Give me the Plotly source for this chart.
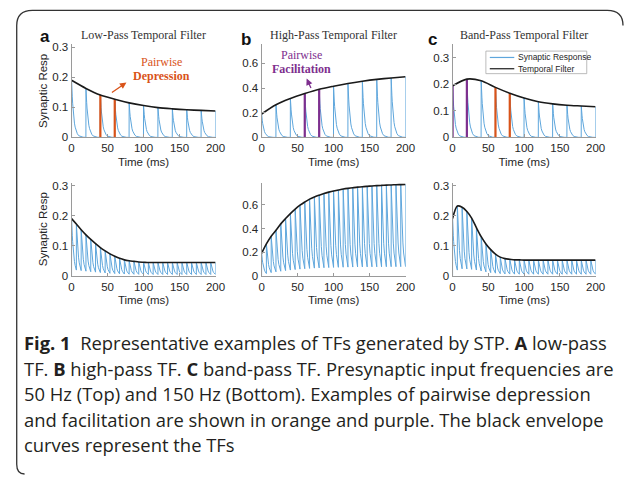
import plotly.graph_objects as go

W, H = 633, 480

# ---------------- data ----------------
TIME_50HZ = [0, 20, 40, 60, 80, 100, 120, 140, 160, 180, 200]
TIME_150HZ = [0, 6.667, 13.333, 20, 26.667, 33.333, 40, 46.667, 53.333, 60,
              66.667, 73.333, 80, 86.667, 93.333, 100, 106.667, 113.333, 120,
              126.667, 133.333, 140, 146.667, 153.333, 160, 166.667, 173.333,
              180, 186.667, 193.333, 200]

LOWPASS_50HZ = [0.19, 0.163, 0.141, 0.127, 0.115, 0.106, 0.099, 0.095, 0.092, 0.090, 0.088]
HIGHPASS_50HZ = [0.19, 0.265, 0.315, 0.355, 0.39, 0.415, 0.437, 0.455, 0.47, 0.482, 0.492]
BANDPASS_50HZ = [0.194, 0.219, 0.213, 0.188, 0.166, 0.148, 0.134, 0.126, 0.121, 0.118, 0.115]

LOWPASS_150HZ = [0.19, 0.172, 0.153, 0.136, 0.121, 0.107, 0.094, 0.083, 0.073, 0.065,
                 0.058, 0.053, 0.050, 0.048, 0.046, 0.045, 0.044, 0.044, 0.044, 0.044,
                 0.044, 0.044, 0.044, 0.044, 0.044, 0.044, 0.044, 0.044, 0.044, 0.044, 0.044]
HIGHPASS_150HZ = [0.19, 0.27, 0.335, 0.385, 0.44, 0.485, 0.527, 0.565, 0.598, 0.625,
                  0.65, 0.668, 0.683, 0.697, 0.709, 0.719, 0.727, 0.735, 0.741, 0.746,
                  0.751, 0.755, 0.758, 0.761, 0.764, 0.766, 0.768, 0.770, 0.772, 0.773, 0.774]
BANDPASS_150HZ = [0.19, 0.232, 0.228, 0.214, 0.192, 0.16, 0.13, 0.106, 0.087, 0.072,
                  0.062, 0.057, 0.055, 0.053, 0.053, 0.052, 0.052, 0.052, 0.052, 0.052,
                  0.052, 0.052, 0.052, 0.052, 0.052, 0.052, 0.052, 0.052, 0.052, 0.052, 0.052]

# shape of a single synaptic response after a spike (fraction of its peak)
DECAY_MS = [0, 0.5, 1, 1.5, 2, 3, 4, 5, 6, 6.6, 8, 10, 13, 16, 19.9]
DECAY_FRAC = [1, 0.84, 0.71, 0.6, 0.5, 0.36, 0.25, 0.18, 0.13, 0.1, 0.065, 0.03, 0.01, 0.004, 0.001]

X_TICKS = [0, 50, 100, 150, 200]
Y_TICKS_SMALL = [0, 0.1, 0.2, 0.3]
Y_TICKS_LARGE = [0, 0.2, 0.4, 0.6]

TITLES = ["Low-Pass Temporal Filter", "High-Pass Temporal Filter", "Band-Pass Temporal Filter"]
PANEL_LETTERS = ["a", "b", "c"]

ORANGE = "#D95319"
PURPLE = "#7E2F8E"
BLUE = "#5ea6dc"
BLACK = "#1a1a1a"

HIGHLIGHT_LP = [(40, ORANGE), (60, ORANGE)]
HIGHLIGHT_HP = [(60, PURPLE), (80, PURPLE)]
HIGHLIGHT_BP = [(0, PURPLE), (20, PURPLE), (60, ORANGE), (80, ORANGE)]

CAPTION = [
    "<b>Fig. 1</b>\u00a0\u00a0Representative examples of TFs generated by STP. <b>A</b> low-pass",
    "TF. <b>B</b> high-pass TF. <b>C</b> band-pass TF. Presynaptic input frequencies are",
    "50 Hz (Top) and 150 Hz (Bottom). Examples of pairwise depression",
    "and facilitation are shown in orange and purple. The black envelope",
    "curves represent the TFs",
]

# ---------------- layout helpers ----------------
def px(x):
    return x / W


def py(y):
    return 1 - y / H


COLS = [(70, 217), (264, 411), (459, 605)]
ROWS = [(42, 137), (183, 278)]

PANELS = [
    dict(row=0, col=0, t=TIME_50HZ, p=LOWPASS_50HZ, yr=0.31, yt=Y_TICKS_SMALL, hl=HIGHLIGHT_LP),
    dict(row=0, col=1, t=TIME_50HZ, p=HIGHPASS_50HZ, yr=0.755, yt=Y_TICKS_LARGE, hl=HIGHLIGHT_HP),
    dict(row=0, col=2, t=TIME_50HZ, p=BANDPASS_50HZ, yr=0.35, yt=Y_TICKS_SMALL, hl=HIGHLIGHT_BP),
    dict(row=1, col=0, t=TIME_150HZ, p=LOWPASS_150HZ, yr=0.31, yt=Y_TICKS_SMALL, hl=[]),
    dict(row=1, col=1, t=TIME_150HZ, p=HIGHPASS_150HZ, yr=0.79, yt=Y_TICKS_LARGE, hl=[]),
    dict(row=1, col=2, t=TIME_150HZ, p=BANDPASS_150HZ, yr=0.31, yt=Y_TICKS_SMALL, hl=[]),
]


def response_trace(times, peaks):
    xs, ys = [], []
    prev = 0.0
    for i, (t, p) in enumerate(zip(times, peaks)):
        t_next = times[i + 1] if i + 1 < len(times) else t
        xs += [t, t]
        ys += [prev, p]
        last = p
        for d, f in zip(DECAY_MS[1:], DECAY_FRAC[1:]):
            if t + d >= t_next:
                break
            xs.append(t + d)
            ys.append(p * f)
            last = p * f
        prev = last
    return xs, ys


AX_COLOR = "#9a9a9a"
TICK_FONT = dict(family="Liberation Sans, Arial, sans-serif", size=11.5, color="#262626")

fig = go.Figure()
layout_axes = {}

for k, pan in enumerate(PANELS, start=1):
    xname = "x" if k == 1 else f"x{k}"
    yname = "y" if k == 1 else f"y{k}"
    rx, ry = response_trace(pan["t"], pan["p"])
    fig.add_trace(go.Scatter(x=rx, y=ry, mode="lines", xaxis=xname, yaxis=yname,
                             line=dict(color=BLUE, width=1), showlegend=False,
                             hoverinfo="skip"))
    for t_h, col in pan["hl"]:
        idx = pan["t"].index(t_h)
        fig.add_trace(go.Scatter(x=[t_h, t_h], y=[0, pan["p"][idx]], mode="lines",
                                 xaxis=xname, yaxis=yname,
                                 line=dict(color=col, width=2.2), showlegend=False))
    fig.add_trace(go.Scatter(x=pan["t"], y=pan["p"], mode="lines", xaxis=xname, yaxis=yname,
                             line=dict(color=BLACK, width=1.6, shape="spline", smoothing=0.8),
                             showlegend=False))

    c0, c1 = COLS[pan["col"]]
    r0, r1 = ROWS[pan["row"]]
    xa = dict(domain=[px(c0), px(c1)], range=[0, 200], tickvals=X_TICKS,
              anchor=yname, showline=True, linecolor=AX_COLOR, linewidth=1,
              ticks="inside", ticklen=3, tickcolor=AX_COLOR, tickfont=TICK_FONT,
              showgrid=False, zeroline=False,
              title=dict(text="Time (ms)", font=TICK_FONT, standoff=4))
    ya = dict(domain=[py(r1), py(r0)], range=[0, pan["yr"]], tickvals=pan["yt"],
              anchor=xname, showline=True, linecolor=AX_COLOR, linewidth=1,
              ticks="inside", ticklen=3, tickcolor=AX_COLOR, tickfont=TICK_FONT,
              showgrid=False, zeroline=False, ticklabelstandoff=0)
    if pan["col"] == 0:
        ya["title"] = dict(text="Synaptic Resp", font=TICK_FONT, standoff=2)
    layout_axes["xaxis" if k == 1 else f"xaxis{k}"] = xa
    layout_axes["yaxis" if k == 1 else f"yaxis{k}"] = ya

annotations = []
SERIF = "Liberation Serif, Times New Roman, serif"
SANS = "Liberation Sans, Arial, sans-serif"


def label(text, x, y, font, xanchor="center"):
    return dict(text=text, x=px(x), y=py(y), xref="paper", yref="paper", showarrow=False,
                xanchor=xanchor, yanchor="middle", font=font)


for i, (c0, c1) in enumerate(COLS):
    annotations.append(label(TITLES[i], (c0 + c1) / 2, 33,
                             dict(family=SERIF, size=12, color="#333333")))

for letter, (lx, ly) in zip(PANEL_LETTERS, [(43, 34), (248, 37), (438, 37)]):
    annotations.append(label(f"<b>{letter}</b>", lx, ly, dict(family=SANS, size=17, color="#111111")))

# pairwise annotations
annotations += [
    label("Pairwise", 162, 60, dict(family=SERIF, size=12, color=ORANGE)),
    label("<b>Depression</b>", 162, 74.5, dict(family=SERIF, size=12, color=ORANGE)),
    dict(text="", x=px(126), y=py(81), xref="paper", yref="paper", showarrow=True,
         ax=110 - 126, ay=92 - 81, arrowhead=2, arrowsize=1, arrowwidth=1.3, arrowcolor=ORANGE),
    label("Pairwise", 305, 53, dict(family=SERIF, size=12, color=PURPLE)),
    label("<b>Facilitation</b>", 305, 67.5, dict(family=SERIF, size=12, color=PURPLE)),
    dict(text="", x=px(310), y=py(77), xref="paper", yref="paper", showarrow=True,
         ax=315 - 310, ay=88 - 77, arrowhead=2, arrowsize=1, arrowwidth=1.3, arrowcolor=PURPLE),
]

# legend (manual, compact like the reference)
LEG_ITEMS = [("Synaptic Response", BLUE, 55.5), ("Temporal Filter", BLACK, 67)]
shapes = [dict(type="rect", xref="paper", yref="paper", x0=px(493), x1=px(596), y0=py(72), y1=py(49),
               line=dict(color="#aaaaaa", width=0.8), fillcolor="white", layer="above")]
for name, col, yy in LEG_ITEMS:
    shapes.append(dict(type="line", xref="paper", yref="paper", x0=px(497), x1=px(522), y0=py(yy), y1=py(yy),
                       line=dict(color=col, width=1.2), layer="above"))
    annotations.append(label(name, 524, yy, dict(family=SANS, size=8.5, color="#262626"), xanchor="left"))

# caption
for i, line in enumerate(CAPTION):
    annotations.append(label(line, 19, 346 + i * 26,
                             dict(family="Open Sans, sans-serif", size=18.4, color="#231f20"),
                             xanchor="left"))

# rounded frame
def pt(x, y):
    return f"{px(x):.5f},{py(y):.5f}"

frame_path = ("M " + pt(22, 480) + " Q " + pt(14, 480) + " " + pt(14, 470) +
              " L " + pt(14, 23) + " Q " + pt(14, 7.5) + " " + pt(30, 7.5) +
              " L " + pt(617, 7.5) + " Q " + pt(633, 7.5) + " " + pt(633, 23))
shapes.append(dict(type="path", xref="paper", yref="paper", path=frame_path,
                   line=dict(color="#333333", width=1.3)))

fig.update_layout(
    width=W, height=H, margin=dict(l=0, r=0, t=0, b=0),
    paper_bgcolor="white", plot_bgcolor="white",
    showlegend=False, annotations=annotations, shapes=shapes,
    **layout_axes,
)

fig.write_html("out.html",
               config={"displayModeBar": False},
               post_script="document.body.style.margin='0';document.body.style.padding='0';"
                           "document.body.style.overflow='hidden';")
